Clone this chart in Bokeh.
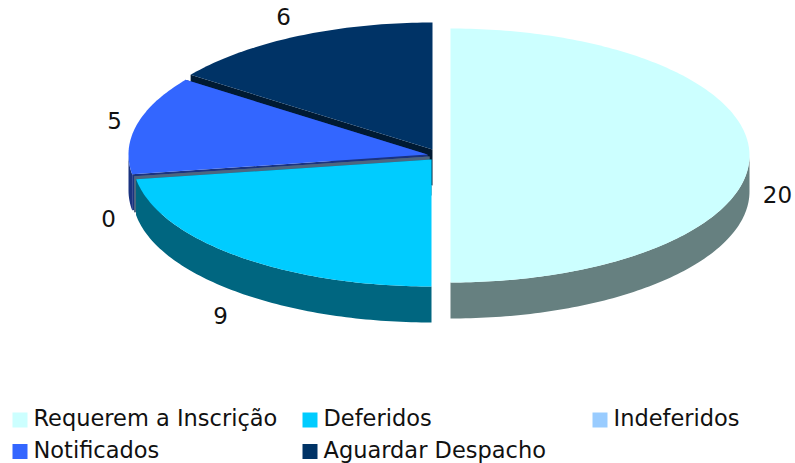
import numpy as np
from bokeh.plotting import figure
from bokeh.models import Range1d
from bokeh.core.properties import value
from bokeh.embed import file_html
from bokeh.resources import INLINE

categories = ["Requerem a Inscrição", "Deferidos", "Indeferidos", "Notificados", "Aguardar Despacho"]
values = [20, 9, 0, 5, 6]
colors = ["#ccffff", "#00ccff", "#99ccff", "#3366ff", "#003366"]
side_colors = ["#668080", "#006680", "#4d6680", "#1a3380", "#001a33"]

# page-pixel layout: slice centres (exploded), ellipse radii, extrusion depth
centers = [(450, 155), (431, 159), (429, 156), (427, 154), (432, 149)]
RX, RY, DEPTH = 299, 127, 36
label_pos = [(777, 195), (220, 316), (108, 219), (114, 121), (283, 17)]
legend_x = [12, 302, 592, 12, 302]
legend_y = [419.5, 419.5, 419.5, 451, 451]

W, H = 795, 463
p = figure(width=W, height=H, output_backend="svg", toolbar_location=None,
           x_range=Range1d(0, W), y_range=Range1d(H, 0),
           min_border=0, outline_line_color=None, background_fill_color="white",
           border_fill_color="white")
p.axis.visible = False
p.grid.visible = False

total = sum(values)
edges = np.concatenate([[0], np.cumsum(values)]) / total * 2 * np.pi

def rim(c, a0, a1):
    a = np.linspace(a0, a1, max(2, int((a1 - a0) * 60)))
    return c[0] + RX * np.sin(a), c[1] - RY * np.cos(a)

# painter's order: back slices first
for i in [4, 3, 2, 1, 0]:
    c, a0, a1 = centers[i], edges[i], edges[i + 1]
    x, y = rim(c, a0, a1)
    # cut faces
    for (ex, ey) in [(x[0], y[0]), (x[-1], y[-1])]:
        if values[i] > 0 and i == 0:
            continue
        p.patch([c[0], ex, ex, c[0]], [c[1], ey, ey + DEPTH, c[1] + DEPTH],
                fill_color=side_colors[i], line_color=None)
    # outer wall: only the front part of the rim can show
    b0, b1 = max(a0, np.pi / 2), min(a1, 3 * np.pi / 2)
    if b1 > b0:
        wx, wy = rim(c, b0, b1)
        p.patch(np.r_[wx, wx[::-1]], np.r_[wy, wy[::-1] + DEPTH],
                fill_color=side_colors[i], line_color=None)
    # top
    if values[i] > 0:
        p.patch(np.r_[c[0], x], np.r_[c[1], y],
                fill_color=colors[i], line_color=None)

FONT = value("DejaVu Sans")
for v, (lx, ly) in zip(values, label_pos):
    p.text([lx], [ly - 1], text=[str(v)], text_font=FONT, text_font_size="23px",
           text_align="center", text_baseline="middle", text_color="#111111")

for name, col, lx, ly in zip(categories, colors, legend_x, legend_y):
    p.quad(left=[lx], right=[lx + 15], top=[ly - 7.5], bottom=[ly + 7.5],
           fill_color=col, line_color=None)
    p.text([lx + 21], [ly - 2], text=[name], text_font=FONT, text_font_size="22.5px",
           text_align="left", text_baseline="middle", text_color="#111111")

open("out.html", "w").write(file_html(p, INLINE))
